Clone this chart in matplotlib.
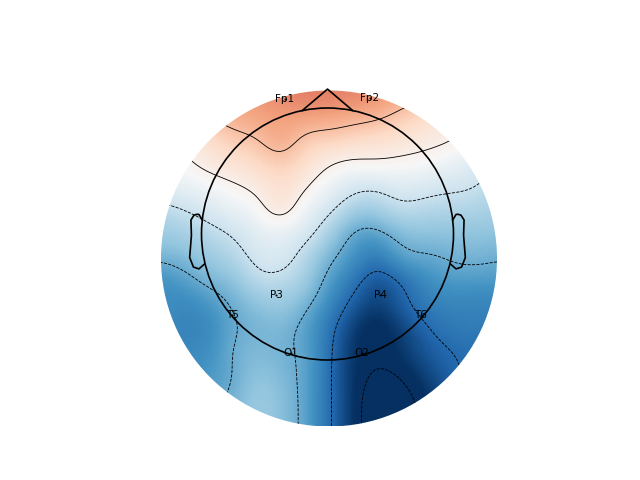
import numpy as np
import matplotlib
matplotlib.use("Agg")
import matplotlib.pyplot as plt
from matplotlib.colors import TwoSlopeNorm
from matplotlib.patches import Circle

grid_x = [161, 185, 209, 233, 257, 281, 305, 329, 353, 377, 401, 425, 449, 473, 497]
grid_y = [90, 114, 138, 162, 186, 210, 234, 258, 282, 306, 330, 354, 378, 402, 426]
row_090 = [.35, .38, .40, .42, .45, .50, .52, .52, .50, .47, .42, .38, .30, .25, .20]
row_114 = [.20, .25, .32, .37, .40, .42, .42, .41, .38, .35, .27, .20, .12, .08, .05]
row_138 = [.05, .10, .18, .26, .30, .38, .27, .24, .20, .17, .14, .10, .07, .01, -.05]
row_162 = [-.05, .03, .10, .15, .20, .26, .17, .07, .03, .04, .02, .00, -.05, -.10, -.18]
row_186 = [-.10, -.07, -.02, .03, .09, .16, .07, -.05, -.15, -.17, -.12, -.14, -.17, -.19, -.27]
row_210 = [-.25, -.20, -.14, -.07, -.01, .12, -.05, -.17, -.31, -.32, -.24, -.26, -.27, -.28, -.30]
row_234 = [-.33, -.30, -.25, -.19, -.10, -.08, -.15, -.30, -.47, -.49, -.40, -.37, -.37, -.36, -.37]
row_258 = [-.43, -.39, -.33, -.27, -.16, -.14, -.26, -.42, -.54, -.64, -.50, -.47, -.44, -.42, -.44]
row_282 = [-.55, -.50, -.42, -.37, -.25, -.25, -.32, -.50, -.65, -.78, -.70, -.58, -.52, -.52, -.52]
row_306 = [-.55, -.58, -.53, -.44, -.37, -.34, -.42, -.58, -.75, -.85, -.75, -.64, -.60, -.60, -.60]
row_330 = [-.58, -.60, -.57, -.46, -.42, -.41, -.49, -.65, -.85, -.93, -.85, -.72, -.65, -.63, -.65]
row_354 = [-.58, -.58, -.55, -.44, -.40, -.42, -.48, -.67, -.88, -.93, -.88, -.78, -.71, -.68, -.70]
row_378 = [-.55, -.55, -.52, -.45, -.36, -.40, -.48, -.68, -.88, -.98, -.95, -.85, -.74, -.68, -.75]
row_402 = [-.52, -.50, -.48, -.42, -.33, -.38, -.48, -.68, -.88, -1.05, -1.00, -.92, -.80, -.78, -.78]
row_426 = [-.50, -.48, -.45, -.40, -.33, -.38, -.48, -.68, -.88, -1.05, -1.00, -.92, -.82, -.80, -.80]
rows = [row_090, row_114, row_138, row_162, row_186, row_210, row_234, row_258,
        row_282, row_306, row_330, row_354, row_378, row_402, row_426]

levels = [-.95, -.70, -.45, -.20, .05, .30]

ch_names = ["Fp1", "Fp2", "P3", "P4", "T5", "T6", "O1", "O2"]
ch_x = [285, 370, 276, 380, 232, 421, 291, 362]
ch_y = [99, 98, 295, 295, 315, 315, 353, 353]

# Standard head outline in head radii
ear_x = np.array([.497, .510, .518, .5299, .5419, .54, .547, .532, .510, .489]) * 2
ear_y = np.array([.0555, .0775, .0783, .0746, .0555, -.0055, -.0932, -.1313, -.1384, -.1199]) * 2
nose_x = np.array([-.2, 0, .2])
nose_y = np.array([.98, 1.15, .98])
hx, hy, hr = 327.5, 234, 126
fx, fy, fr = 329, 258.5, 168


def spline_matrix(n, factor):
    """Natural cubic spline resampling matrix for n evenly spaced knots."""
    A = np.zeros((n, n))
    B = np.zeros((n, n))
    A[0, 0] = A[-1, -1] = 1
    for i in range(1, n - 1):
        A[i, i - 1:i + 2] = [1, 4, 1]
        B[i, i - 1:i + 2] = [6, -12, 6]
    M2 = np.linalg.solve(A, B)
    t = np.arange((n - 1) * factor + 1) / factor
    i = np.minimum(t.astype(int), n - 2)
    u = t - i
    W = np.zeros((t.size, n))
    r = np.arange(t.size)
    W[r, i] += 1 - u
    W[r, i + 1] += u
    W += (((1 - u) ** 3 - (1 - u)) / 6)[:, None] * M2[i]
    W += ((u ** 3 - u) / 6)[:, None] * M2[i + 1]
    return W


def soften(a, sigma):
    k = np.exp(-0.5 * (np.arange(-15, 16) / sigma) ** 2)
    k /= k.sum()
    p = np.pad(a, 15, mode="edge")
    p = np.apply_along_axis(lambda v: np.convolve(v, k, "same"), 0, p)
    p = np.apply_along_axis(lambda v: np.convolve(v, k, "same"), 1, p)
    return p[15:-15, 15:-15]


fig = plt.figure(figsize=(6.4, 4.8), dpi=100)
ax = fig.add_axes([0, 0, 1, 1])
ax.set_xlim(0, 640)
ax.set_ylim(480, 0)
ax.axis("off")

Z = np.array(rows)
W = spline_matrix(len(grid_x), 8)
field = soften(W @ Z @ W.T, 3.0)
fine_x = np.linspace(grid_x[0], grid_x[-1], field.shape[1])
fine_y = np.linspace(grid_y[0], grid_y[-1], field.shape[0])

clip = Circle((fx, fy), fr, transform=ax.transData)
im = ax.imshow(field, cmap="RdBu_r", norm=TwoSlopeNorm(vmin=-.9, vcenter=0, vmax=1), origin="upper",
               extent=(grid_x[0], grid_x[-1], grid_y[-1], grid_y[0]), interpolation="bilinear", aspect="auto")
im.set_clip_path(clip)
plt.rcParams["contour.negative_linestyle"] = "dashed"
cs = ax.contour(fine_x, fine_y, field, levels=levels, colors="k", linewidths=0.6)
cs.set_clip_path(clip)
ax.set_xlim(0, 640)
ax.set_ylim(480, 0)

ax.add_patch(Circle((hx, hy), hr, fill=False, ec="k", lw=1.2))
ax.plot(hx + nose_x * hr, hy - nose_y * hr, color="k", lw=1.2)
ax.plot(hx + ear_x * hr, hy - ear_y * hr, color="k", lw=1.2)
ax.plot(hx - ear_x * hr, hy - ear_y * hr, color="k", lw=1.2)

ax.plot(ch_x, ch_y, ls="none", marker=".", ms=3, mew=0, color="k")
for n, x, y in zip(ch_names, ch_x, ch_y):
    ax.text(x, y, n, ha="center", va="center", fontsize=7.5, color="k")

fig.savefig("out.png", dpi=100)
